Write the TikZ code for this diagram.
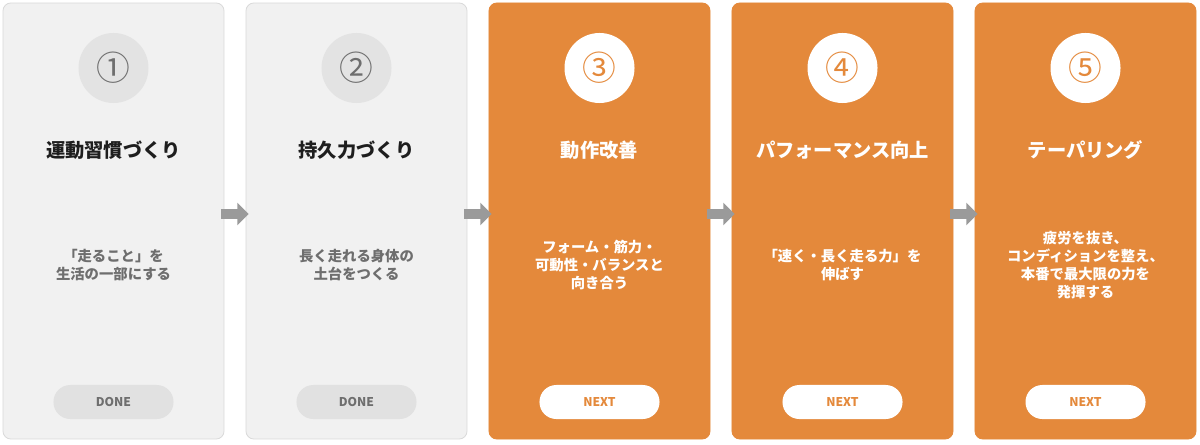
\documentclass[tikz,border=0pt]{standalone}
\usepackage{fontspec}
\setmainfont{Noto Sans CJK JP}
\usetikzlibrary{arrows.meta}
\definecolor{orangemain}{HTML}{E4893B}
\definecolor{grayfill}{HTML}{F1F1F1}
\definecolor{grayline}{HTML}{DADADA}
\definecolor{graybadge}{HTML}{E3E3E3}
\definecolor{graytext}{HTML}{6E6E6E}
\definecolor{graybtn}{HTML}{E1E1E1}
\definecolor{titledark}{HTML}{1E1E1E}
\definecolor{arrowgray}{HTML}{9A9A9A}
\begin{document}
\begin{tikzpicture}[x=0.025cm, y=-0.025cm,
	card/.style={rectangle, rounded corners=0.2cm, minimum width=5.525cm, minimum height=10.9cm, fill=cfill, draw=cline, line width=0.6pt},
	badge/.style={circle, minimum size=1.75cm, inner sep=0pt, fill=cbadge, text=cnum, font=\fontsize{24}{24}\selectfont},
	heading/.style={text=ctitle, font=\bfseries\fontsize{13.7}{16}\selectfont},
	blurb/.style={text=cbody, align=center, font=\bfseries\fontsize{10.2}{13}\selectfont},
	pill/.style={rectangle, rounded corners=0.42cm, minimum width=3cm, minimum height=0.85cm, fill=cbtn, text=cbtntext, font=\bfseries\fontsize{8.6}{10}\selectfont},
	flowarrow/.style={arrowgray, line width=0.27cm, -{Triangle[length=0.28cm, width=0.55cm]}}]

\useasboundingbox (0,0) rectangle (1200,445);

\foreach \i/\num/\ttl/\txt in {1/①/運動習慣づくり/{「走ること」を\\生活の一部にする},
	2/②/持久力づくり/{長く走れる身体の\\土台をつくる},
	3/③/動作改善/{フォーム・筋力・\\可動性・バランスと\\向き合う},
	4/④/パフォーマンス向上/{「速く・長く走る力」を\\伸ばす},
	5/⑤/テーパリング/{疲労を抜き、\\コンディションを整え、\\本番で最大限の力を\\発揮する}}
{
	\pgfmathparse{113.5 + (\i-1)*243};
	\let\x\pgfmathresult;
	\ifnum\i<3
		\colorlet{cfill}{grayfill}\colorlet{cline}{grayline}\colorlet{cbadge}{graybadge}
		\colorlet{cnum}{graytext}\colorlet{ctitle}{titledark}\colorlet{cbody}{graytext}
		\colorlet{cbtn}{graybtn}\colorlet{cbtntext}{graytext}\def\btn{DONE}
	\else
		\colorlet{cfill}{orangemain}\colorlet{cline}{orangemain}\colorlet{cbadge}{white}
		\colorlet{cnum}{orangemain}\colorlet{ctitle}{white}\colorlet{cbody}{white}
		\colorlet{cbtn}{white}\colorlet{cbtntext}{orangemain}\def\btn{NEXT}
	\fi
	\node [card] (c\i) at (\x, 221) {};
	\node [badge] (n\i) at (\x, 68) {\num};
	\node [heading] (h\i) at (\x, 150) {\ttl};
	\node [blurb] (b\i) at (\x, 265) {\txt};
	\node [pill] (p\i) at (\x, 402) {\btn};
}

\foreach \i [evaluate=\i as \j using int(\i+1)] in {1,...,4}
{
	\draw [flowarrow] ([shift={(-3,-7)}]c\i.east) -- ([shift={(3,-7)}]c\j.west);
}
\end{tikzpicture}
\end{document}
